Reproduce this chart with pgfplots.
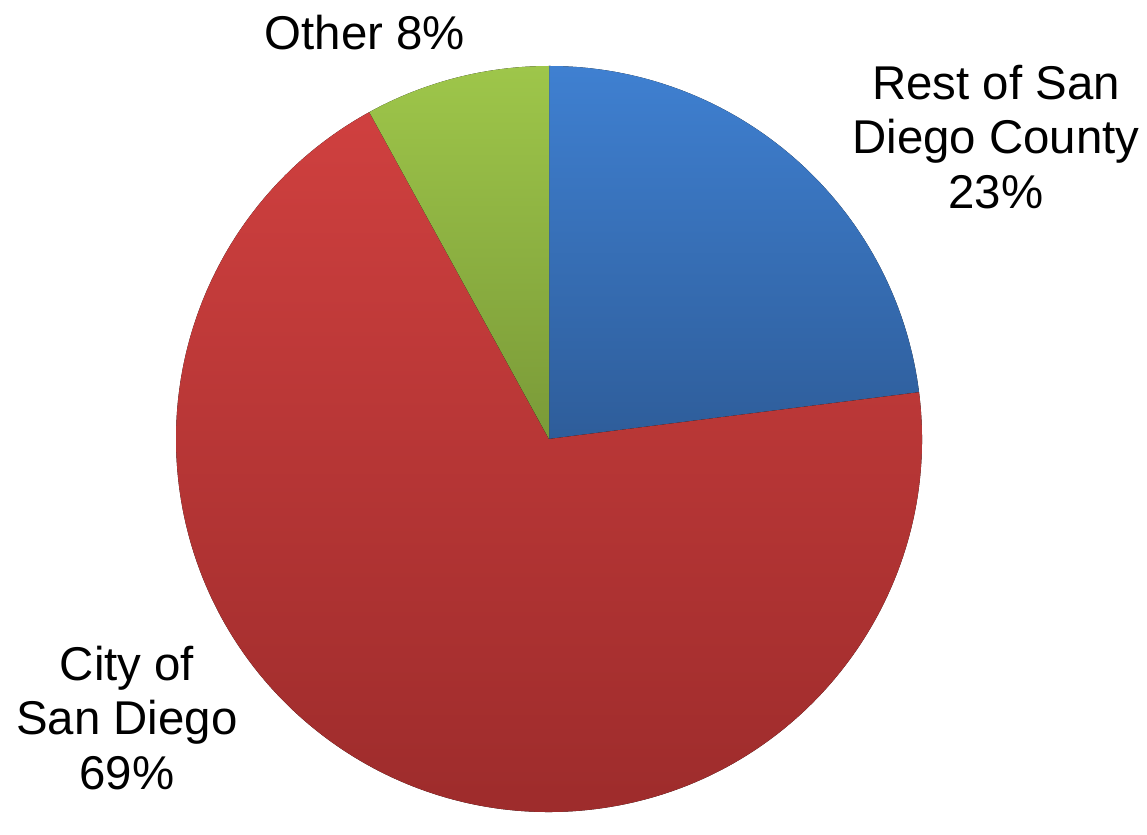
\documentclass[border=0pt]{standalone}
\usepackage{fontspec}
\setmainfont{Liberation Sans}
\usepackage{pgfplots}
\usepackage{pgfplotstable}
\pgfplotsset{compat=1.18}

\definecolor{bluetop}{HTML}{3F80D1}
\definecolor{bluebot}{HTML}{2E5D9A}
\definecolor{redtop}{HTML}{CF403F}
\definecolor{redbot}{HTML}{9C2B2B}
\definecolor{greentop}{HTML}{9EC64A}
\definecolor{greenbot}{HTML}{7A9A38}

% share of each slice, in percent (clockwise from 12 o'clock)
\pgfplotstableread{
name value
Rest 23
City 69
Other 8
}\piedata

\pgfplotstablegetelem{0}{value}\of\piedata \let\vrest\pgfplotsretval
\pgfplotstablegetelem{1}{value}\of\piedata \let\vcity\pgfplotsretval
\pgfplotstablegetelem{2}{value}\of\piedata \let\vother\pgfplotsretval
\pgfmathsetmacro\aA{90}
\pgfmathsetmacro\aB{\aA-3.6*\vrest}
\pgfmathsetmacro\aC{\aB-3.6*\vcity}
\pgfmathsetmacro\aD{\aC-3.6*\vother}
\def\R{186.5pt}

\tikzset{lbl/.style={font=\fontsize{23.7}{27.2}\selectfont, align=center, inner sep=0pt}}

\begin{document}
\begin{tikzpicture}
\begin{axis}[
    x=0.5pt, y=0.5pt,
    xmin=0, xmax=1147, ymin=0, ymax=815,
    hide axis, clip=false,
]
\path (axis cs:0,0) rectangle (axis cs:1147,815);
\fill[top color=bluetop, bottom color=bluebot]
    (axis cs:549,376) -- ++(\aA:\R) arc[start angle=\aA, end angle=\aB, radius=\R] -- cycle;
\fill[top color=redtop, bottom color=redbot]
    (axis cs:549,376) -- ++(\aB:\R) arc[start angle=\aB, end angle=\aC, radius=\R] -- cycle;
\fill[top color=greentop, bottom color=greenbot]
    (axis cs:549,376) -- ++(\aC:\R) arc[start angle=\aC, end angle=\aD, radius=\R] -- cycle;
\node[lbl] at (axis cs:365,782) {Other \vother\%};
\node[lbl] at (axis cs:996,678) {Rest of San\\Diego County\\\vrest\%};
\node[lbl] at (axis cs:127,97) {City of\\San Diego\\\vcity\%};
\end{axis}
\end{tikzpicture}
\end{document}
